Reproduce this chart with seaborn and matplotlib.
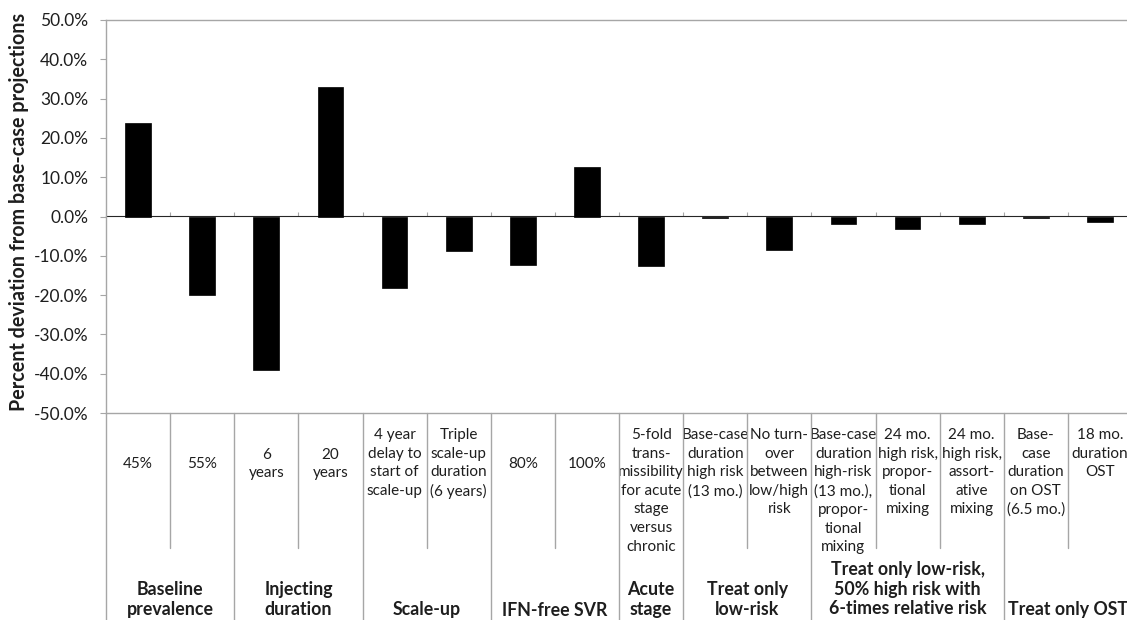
import numpy as np
import pandas as pd
import matplotlib
matplotlib.use("Agg")
import matplotlib.pyplot as plt
import matplotlib.transforms as mtransforms
from matplotlib.lines import Line2D
from matplotlib.ticker import FuncFormatter, NullFormatter
import seaborn as sns

# ---------------- data ----------------
sub_labels = [
    "45%", "55%",
    "6\nyears", "20\nyears",
    "4 year\ndelay to\nstart of\nscale-up", "Triple\nscale-up\nduration\n(6 years)",
    "80%", "100%",
    "5-fold\ntrans-\nmissibility\nfor acute\nstage\nversus\nchronic",
    "Base-case\nduration\nhigh risk\n(13 mo.)", "No turn-\nover\nbetween\nlow/high\nrisk",
    "Base-case\nduration\nhigh-risk\n(13 mo.),\npropor-\ntional\nmixing",
    "24 mo.\nhigh risk,\npropor-\ntional\nmixing",
    "24 mo.\nhigh risk,\nassort-\native\nmixing",
    "Base-\ncase\nduration\non OST\n(6.5 mo.)", "18 mo.\nduration\nOST",
]
deviation = [23.7, -20.1, -39.1, 32.9, -18.1, -8.9, -12.4, 12.7, -12.6,
             -0.3, -8.4, -1.8, -3.1, -1.8, -0.3, -1.5]
group_labels = ["Baseline\nprevalence", "Injecting\nduration", "Scale-up",
                "IFN-free SVR", "Acute\nstage", "Treat only\nlow-risk",
                "Treat only low-risk,\n50% high risk with\n6-times relative risk",
                "Treat only OST"]
group_sizes = [2, 2, 2, 2, 1, 2, 3, 2]
y_ticks = [-50, -40, -30, -20, -10, 0, 10, 20, 30, 40, 50]
y_label = "Percent deviation from base-case projections"

# ---------------- style ----------------
sns.set_style("white")
plt.rcParams['font.family'] = ['Lato', 'DejaVu Sans']
GRAY = "#a6a6a6"
TXT = "#1e1e1e"

W, H = 1127, 620
fig = plt.figure(figsize=(W / 100, H / 100), dpi=100)
ax_left, ax_right, ax_top, ax_bot = 106, 1132, 20, 413
ax = fig.add_axes([ax_left / W, 1 - ax_bot / H, (ax_right - ax_left) / W, (ax_bot - ax_top) / H])

df = pd.DataFrame({"cat": [f"c{i}" for i in range(len(sub_labels))], "dev": deviation})
sns.barplot(data=df, x="cat", y="dev", color="black", saturation=1, width=0.4,
            edgecolor="black", linewidth=0.5, ax=ax)

n = len(sub_labels)
ax.set_xlim(-0.5, n - 0.5)
ax.set_ylim(y_ticks[0], y_ticks[-1])
ax.set_yticks(y_ticks)
ax.yaxis.set_major_formatter(FuncFormatter(lambda v, p: f"{v:.1f}%"))
ax.tick_params(axis="y", direction="out", length=4.3, width=0.8, color=GRAY,
               pad=8.5, labelsize=12.5, labelcolor=TXT, left=True)
ax.set_xticks([])
ax.set_xlabel("")
ax.set_ylabel("")
for s in ax.spines.values():
    s.set_color(GRAY)
    s.set_linewidth(1.0)
    s.set_visible(True)

# zero category axis with downward ticks at category boundaries
sec = ax.secondary_xaxis(0.5)
sec.set_xticks(np.arange(0.5, n - 0.5, 1.0))
sec.xaxis.set_major_formatter(NullFormatter())
sec.tick_params(axis="x", direction="out", length=3, width=0.8, color=GRAY)
sec.spines["bottom"].set_color(GRAY)
sec.spines["bottom"].set_linewidth(1.2)

# y label
fig.text(19 / W, 1 - 212 / H, y_label, rotation=90, ha="center", va="center",
         fontsize=14.2, fontweight="bold", color=TXT)

# multi-level category labels below the plot area
tr = mtransforms.blended_transform_factory(ax.transData, fig.transFigure)
def fy(p):
    return 1 - p / H

for i, lab in enumerate(sub_labels):
    nl = lab.count("\n") + 1
    if nl <= 2:
        ax.text(i, fy(464), lab, transform=tr, ha="center", va="center",
                fontsize=11, color=TXT, linespacing=1.42, clip_on=False)
    else:
        ax.text(i, fy(428), lab, transform=tr, ha="center", va="top",
                fontsize=11, color=TXT, linespacing=1.42, clip_on=False)

bounds = np.concatenate([[0], np.cumsum(group_sizes)])
major = set(bounds.tolist())
for b in range(0, n + 1):
    xb = b - 0.5
    y_end = 620 if b in major else 548
    fig.add_artist(Line2D([xb, xb], [fy(413), fy(y_end)], transform=tr,
                          color=GRAY, linewidth=1.0, clip_on=False))

for g, lab in enumerate(group_labels):
    xc = (bounds[g] + bounds[g + 1] - 1) / 2
    nl = lab.count("\n") + 1
    yc = 610 - (nl - 1) * 21 / 2
    ax.text(xc, fy(yc), lab, transform=tr, ha="center", va="center",
            fontsize=12.8, fontweight="bold", color=TXT, linespacing=1.2,
            clip_on=False)

fig.savefig("out.png", dpi=100)
